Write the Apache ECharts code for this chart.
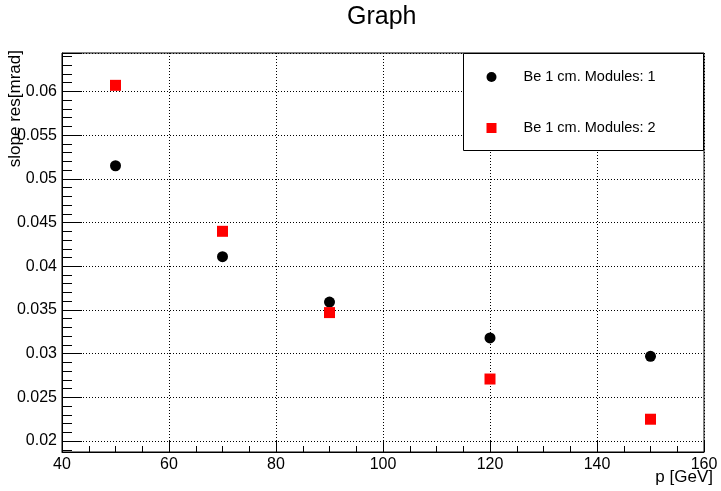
<!DOCTYPE html>
<html lang="en">
  <head>
    <meta charset="UTF-8" />
    <title>Graph</title>
    <script src="https://cdn.jsdelivr.net/npm/echarts@6/dist/echarts.min.js"></script>
    <style>
      html, body { margin: 0; padding: 0; background: #fff; }
    </style>
  </head>
  <body>
    <div id="chart" style="width: 721px; height: 491px"></div>
  </body>
  <script>
    // p [GeV]
    const pValues = [50, 70, 90, 120, 150]
    // slope resolution, Be 1 cm
    const resModules1 = [0.0515, 0.0411, 0.0359, 0.0318, 0.0297]
    const resModules2 = [0.0607, 0.044, 0.0347, 0.0271, 0.0225]
    const seriesNames = ['Be 1 cm. Modules: 1', 'Be 1 cm. Modules: 2']

    const font = 'Liberation Sans'
    const chart = echarts.init(document.getElementById('chart'))

    const toPoints = vals => pValues.map((p, i) => [p, vals[i]])

    const option = {
      animation: false,
      backgroundColor: '#fff',
      title: {
        text: 'Graph',
        left: 347,
        top: 5,
        padding: 0,
        textStyle: { fontFamily: font, fontSize: 25, fontWeight: 'normal', color: '#000' }
      },
      grid: {
        left: 62,
        right: 17,
        top: 53,
        bottom: 39,
        show: true,
        borderColor: '#000',
        borderWidth: 1
      },
      legend: {
        orient: 'vertical',
        left: 486.5,
        top: 69,
        padding: 0,
        itemWidth: 10,
        itemHeight: 10,
        itemGap: 35,
        z: 5,
        itemStyle: { opacity: 1 },
        textStyle: { fontFamily: font, fontSize: 14.5, lineHeight: 16, color: '#000', padding: [0, 0, 0, 22] },
        data: [
          { name: seriesNames[0], icon: 'circle' },
          { name: seriesNames[1], icon: 'rect' }
        ]
      },
      xAxis: {
        type: 'value',
        min: 40,
        max: 160,
        interval: 20,
        axisLine: { show: true, onZero: false, lineStyle: { color: '#000', width: 1 } },
        axisTick: { show: true, inside: true, length: 12, lineStyle: { color: '#000' } },
        minorTick: { show: true, splitNumber: 4, length: 6, lineStyle: { color: '#000' } },
        axisLabel: { fontFamily: font, fontSize: 16, color: '#000', margin: 5 },
        splitLine: { show: true, lineStyle: { color: '#000', type: [1, 2], width: 1 } }
      },
      yAxis: {
        type: 'value',
        min: 0.01875,
        max: 0.0644,
        splitNumber: 9,
        axisLine: { show: true, onZero: false, lineStyle: { color: '#000', width: 1 } },
        axisTick: { show: true, inside: true, length: 20, lineStyle: { color: '#000' } },
        minorTick: { show: true, splitNumber: 5, length: 10, lineStyle: { color: '#000' } },
        axisLabel: { fontFamily: font, fontSize: 16, color: '#000', margin: 5, showMinLabel: false, showMaxLabel: false },
        splitLine: { show: true, lineStyle: { color: '#000', type: [1, 2], width: 1 } }
      },
      graphic: [
        {
          type: 'rect',
          z: 3,
          shape: { x: 463.5, y: 53.5, width: 240, height: 97 },
          style: { fill: '#fff', stroke: '#000', lineWidth: 1 }
        },
        {
          type: 'text',
          x: 713,
          y: 477,
          style: { text: 'p [GeV]', font: '17px "Liberation Sans"', fill: '#000', textAlign: 'right', textVerticalAlign: 'middle' }
        },
        {
          type: 'text',
          x: 15,
          y: 50,
          rotation: Math.PI / 2,
          style: { text: 'slope res[mrad]', font: '17px "Liberation Sans"', fill: '#000', textAlign: 'right', textVerticalAlign: 'middle' }
        }
      ],
      series: [
        {
          name: seriesNames[0],
          type: 'scatter',
          symbol: 'circle',
          symbolSize: 11,
          itemStyle: { color: '#000', opacity: 1 },
          data: toPoints(resModules1)
        },
        {
          name: seriesNames[1],
          type: 'scatter',
          symbol: 'rect',
          symbolSize: 11,
          itemStyle: { color: '#ff0000', opacity: 1 },
          data: toPoints(resModules2)
        }
      ]
    }
    chart.setOption(option)
  </script>
</html>
